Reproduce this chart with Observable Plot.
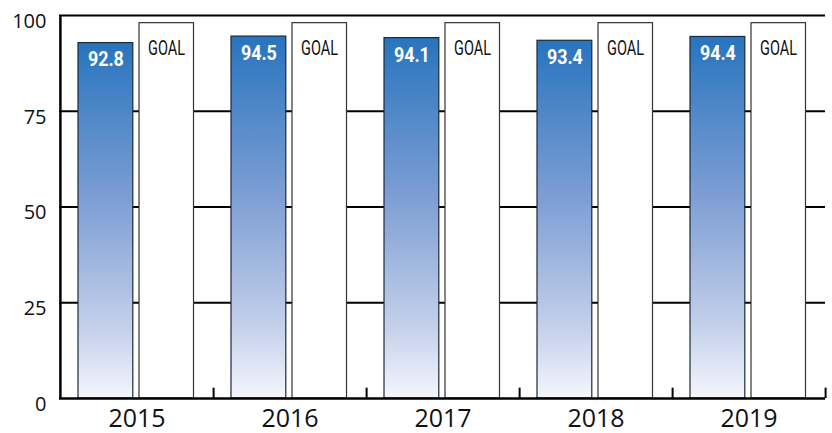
<!DOCTYPE html>
<html>
<head>
<meta charset="utf-8">
<script src="https://cdn.jsdelivr.net/npm/d3@7"></script>
<script src="https://cdn.jsdelivr.net/npm/@observablehq/plot@0.6"></script>
<style>
  html, body { margin: 0; padding: 0; background: #fff; }
  svg { display: block; }
</style>
</head>
<body>
<div id="chart"></div>
<script>
const years = ["2015", "2016", "2017", "2018", "2019"];
const actual = [92.8, 94.5, 94.1, 93.4, 94.4];
const goal = [98, 98, 98, 98, 98];
const goalLabel = "GOAL";
const yTicks = [0, 25, 50, 75, 100];
const gridValues = [25, 50, 75, 100];

const rows = years.map((y, i) => ({year: y, actual: actual[i], goal: goal[i]}));

const W = 832, H = 433;
const mL = 59, mR = 7, mT = 15, mB = 35;
const band = (W - mL - mR) / years.length;

const narrow = "Roboto, 'Noto Sans', sans-serif";

const defs = () => {
  const d = d3.create("svg:defs");
  const g = d.append("linearGradient").attr("id", "blueGrad")
    .attr("x1", 0).attr("y1", 0).attr("x2", 0).attr("y2", 1);
  g.append("stop").attr("offset", "0%").attr("stop-color", "#2874be");
  g.append("stop").attr("offset", "45%").attr("stop-color", "#7f9fd4");
  g.append("stop").attr("offset", "80%").attr("stop-color", "#c3d0ea");
  g.append("stop").attr("offset", "100%").attr("stop-color", "#f4f6fc");
  return d.node();
};

const chart = Plot.plot({
  width: W,
  height: H,
  marginLeft: mL,
  marginRight: mR,
  marginTop: mT,
  marginBottom: mB,
  style: {fontFamily: "'Open Sans', 'Noto Sans', sans-serif", background: "#fff"},
  x: {type: "band", domain: years, paddingInner: 0, paddingOuter: 0, label: null},
  y: {domain: [0, 100], label: null},
  marks: [
    defs,
    Plot.ruleY(gridValues, {stroke: "#000", strokeWidth: 2.2}),
    Plot.barY(rows, {x: "year", y: "actual", fill: "url(#blueGrad)", stroke: "#1b2a3a", strokeWidth: 1.2, insetLeft: 18, insetRight: band - 18 - 55}),
    Plot.barY(rows, {x: "year", y: "goal", fill: "#fff", stroke: "#333", strokeWidth: 1.2, insetLeft: 79, insetRight: 19.5}),
    Plot.text(rows, {x: "year", y: "actual", text: d => d.actual.toFixed(1), dx: 18 + 27.5 - band / 2, dy: 17, fill: "#fff", fontWeight: "bold", fontSize: 20, fontFamily: narrow}),
    Plot.text(rows, {x: "year", y: "goal", text: () => goalLabel, dx: band / 2 - 19.5 - 27.5, dy: 25, fill: "#111", fontSize: 20, fontFamily: narrow}),
    Plot.ruleY([0], {stroke: "#000", strokeWidth: 2.5}),
    Plot.ruleX([0], {x: () => years[0], dx: -band / 2, y1: 0, y2: 100, stroke: "#000", strokeWidth: 2.5}),
    Plot.ruleX(years, {x: d => d, dx: band / 2, y1: 0, y2: 2.7, stroke: "#000", strokeWidth: 2}),
    Plot.axisY(yTicks, {tickSize: 0, tickPadding: 13, fontSize: 20, dy: 6, fill: "#111"}),
    Plot.axisX(years, {tickSize: 0, tickPadding: 11, fontSize: 25, fill: "#111"})
  ]
});

const valueLabels = new Set(actual.map(v => v.toFixed(1)));
d3.select(chart).selectAll("text").each(function () {
  const t = this.textContent;
  if (valueLabels.has(t)) {
    d3.select(this).attr("textLength", 36).attr("lengthAdjust", "spacingAndGlyphs");
  } else if (t === goalLabel) {
    d3.select(this).attr("textLength", 37).attr("lengthAdjust", "spacingAndGlyphs");
  }
});

document.getElementById("chart").appendChild(chart);
</script>
</body>
</html>
